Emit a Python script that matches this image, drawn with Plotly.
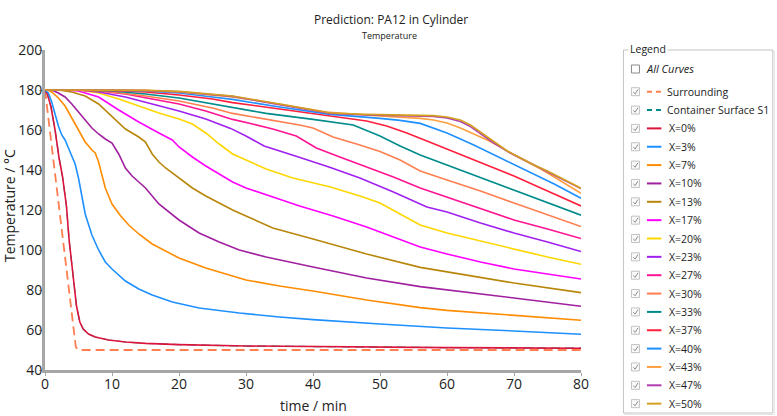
import plotly.graph_objects as go

# ---------------- data ----------------
surr_t = [0, 4.1, 4.6, 5.0, 80]
surr_T = [180, 65, 51.5, 50, 50]

cont_t = [0, 0.4, 0.9, 1.5, 2.1, 2.6, 3.2, 3.6, 4.1, 4.7, 5.2, 5.7, 6.5, 7.5, 9.5, 12, 15, 20, 30, 45, 60, 80]
cont_T = [180, 177.5, 171.5, 160, 146, 137, 122, 105, 90, 72, 64, 60.5, 58, 56.5, 55, 54, 53.3, 52.7, 52, 51.5, 51.2, 50.9]

x0_t = [0, 0.4, 0.9, 1.5, 2.1, 2.6, 3.2, 3.6, 4.1, 4.7, 5.2, 5.7, 6.5, 7.5, 9.5, 12, 15, 20, 30, 45, 60, 80]
x0_T = [180, 177.5, 171.5, 160, 146, 137, 122, 105, 90, 72, 64, 60.5, 58, 56.5, 55, 54, 53.3, 52.7, 52, 51.5, 51.2, 50.9]

x3_t = [0, 0.5, 1, 1.5, 2, 2.5, 3, 3.5, 4, 4.5, 5, 5.5, 6, 7, 8, 9, 10, 12, 14, 16, 19, 23, 29, 35, 40, 50, 56, 60, 70, 80]
x3_T = [180, 178.5, 174, 168, 162, 157.5, 155, 151, 147, 143, 136, 126, 118, 107.5, 100, 94, 90.5, 84.5, 80.5, 77.5, 74, 71, 68.5, 66.5, 65.2, 63, 61.7, 61, 59.5, 57.9]

x7_t = [0, 0.5, 1, 2, 3, 4, 5, 6, 7, 7.5, 8, 8.5, 9, 10, 11.3, 12.5, 14, 16, 18, 20, 22, 24, 27, 30, 35, 40, 48, 56, 60, 70, 80]
x7_T = [180, 179.8, 179, 176, 172, 166, 160, 154, 150, 148.5, 144, 138, 131, 123, 117, 112.5, 108, 103, 99.5, 96, 93.5, 91, 88, 85, 82, 79.5, 75, 71.2, 69.8, 67.2, 64.9]

x10_t = [0, 1, 2, 3, 4, 5, 6, 7, 8, 9, 10, 11, 12, 13, 14, 15, 17, 20, 23, 26, 29, 33, 40, 48, 56, 60, 70, 80]
x10_T = [180, 180, 178.5, 176.5, 173, 169, 165, 161, 158, 155.5, 153.5, 148, 141, 137, 134, 131, 123, 115, 108.5, 104, 100, 96.5, 91.5, 86, 81.7, 80, 76, 71.9]

x13_t = [0, 2, 4, 6, 8, 10, 12, 14, 15, 16, 17, 18, 20, 22, 24, 26, 28, 30, 34, 40, 48, 56, 60, 70, 80]
x13_T = [180, 180, 179, 177, 173, 166.5, 160.5, 156.5, 154, 148, 144, 141, 136, 131, 127, 123.5, 120, 117, 111, 105.5, 98, 91.3, 89, 83.5, 78.7]

x17_t = [0, 3, 5, 8, 11, 14, 17, 19, 20, 22, 24, 26, 28, 30, 33, 38, 43, 48, 52, 56, 60, 65, 70, 75, 80]
x17_T = [180, 180, 179.5, 176.5, 170, 164, 158.5, 155, 151.5, 146.5, 142, 138, 134, 131, 127.5, 122, 117, 111.5, 106.5, 101.5, 98, 94, 90.5, 88, 85.5]

x20_t = [0, 5, 8, 11, 14, 17, 20, 22, 24, 26, 28, 30, 33, 37, 42.6, 47, 50, 53, 56, 60, 65, 70, 75, 80]
x20_T = [180, 180, 178.5, 175.5, 172, 168.5, 165.5, 163, 158.5, 153, 148, 145, 140.5, 136, 131.5, 127, 123.5, 118, 112.5, 108.5, 104.5, 100.5, 96.5, 92.9]

x23_t = [0, 5, 8, 12, 16, 20, 24, 27.7, 30, 32.7, 37.6, 42.6, 47, 52, 57, 60, 65, 70, 75, 80]
x23_T = [180, 180, 179, 176.5, 173, 169.5, 165.5, 160.8, 157, 152, 146.7, 141.3, 136, 129, 121.5, 119, 113.5, 108.5, 104, 99.2]

x27_t = [0, 5, 8, 12, 16, 20, 24, 28, 31, 34, 37.5, 40.5, 44, 48, 52, 56, 60, 65, 70, 75, 80]
x27_T = [180, 180, 179.5, 178, 175.5, 173, 169.5, 165.3, 163, 160.5, 157, 151, 146.5, 141.5, 136.5, 131, 126.5, 120.5, 115, 110.5, 105.7]

x30_t = [0, 5, 10, 15, 20, 25, 28, 33, 38, 40, 43, 47, 50, 53, 56, 60, 65, 70, 75, 80]
x30_T = [180, 180, 179, 177, 174.5, 171, 168.3, 165.5, 162.5, 161, 156.5, 152.5, 149.2, 145, 139.5, 135, 129.5, 123.5, 117.5, 111.7]

x33_t = [0, 5, 10, 15, 20, 25, 28, 33, 40, 46, 50, 53, 56, 60, 65, 70, 75, 80]
x33_T = [180, 180, 179.5, 178, 176, 173, 171.3, 168.3, 165.3, 162.5, 157, 152, 147.5, 142.5, 136, 130, 123.5, 117.4]

x37_t = [0, 5, 10, 15, 20, 25, 28, 35, 42, 48, 51, 54, 57, 60, 65, 70, 75, 80]
x37_T = [180, 180, 179.8, 179, 177.5, 175.5, 173.7, 170.5, 167.2, 164.5, 162, 158.5, 154.5, 150.5, 144, 137, 129.5, 122]

x40_t = [0, 10, 15, 20, 25, 28, 35, 42.6, 50, 53, 56, 60, 64, 68, 72, 76, 80]
x40_T = [180, 180, 179.5, 178.5, 176.5, 175.3, 171.5, 167.8, 165.8, 164.8, 163.3, 158.5, 152.5, 146, 139.5, 133, 125.9]

x43_t = [0, 10, 15, 20, 25, 28, 35, 42, 50, 56, 58, 60, 62, 64, 66, 68, 70, 72, 74, 76, 78, 80]
x43_T = [180, 180, 179.8, 179, 177.5, 176.5, 173, 169, 167, 165.8, 165, 163.5, 161, 158, 155, 151.5, 147.5, 144, 140.5, 136.5, 132.5, 128.4]

x47_t = [0, 10, 15, 20, 25, 28, 35, 42.6, 48, 52, 56, 58, 60, 62, 63.5, 65, 67, 69, 71, 73, 75, 77, 80]
x47_T = [180, 180, 179.7, 179.1, 177.8, 176.8, 172.7, 168.3, 167.5, 167.3, 167.2, 166.8, 166, 164.2, 161.7, 158.2, 153.5, 149.3, 145.8, 142.3, 139.2, 135.7, 130.7]

x50_t = [0, 10, 15, 20, 25, 28, 35, 42.6, 48, 52, 56, 58, 60, 62, 63.5, 65, 67, 69, 71, 73, 75, 77, 80]
x50_T = [180, 180, 179.8, 179.3, 178, 177, 173, 168.5, 167.8, 167.6, 167.5, 167.2, 166.5, 165, 162.5, 159, 154, 149.5, 146, 142.5, 139.5, 136, 130.9]

names = ["Surrounding", "Container Surface S1", "X=0%", "X=3%", "X=7%", "X=10%", "X=13%",
         "X=17%", "X=20%", "X=23%", "X=27%", "X=30%", "X=33%", "X=37%", "X=40%",
         "X=43%", "X=47%", "X=50%"]
times = [surr_t, cont_t, x0_t, x3_t, x7_t, x10_t, x13_t, x17_t, x20_t, x23_t, x27_t,
         x30_t, x33_t, x37_t, x40_t, x43_t, x47_t, x50_t]
temps = [surr_T, cont_T, x0_T, x3_T, x7_T, x10_T, x13_T, x17_T, x20_T, x23_T, x27_T,
         x30_T, x33_T, x37_T, x40_T, x43_T, x47_T, x50_T]
colors = ["#FF7F50", "#008B8B", "#DC143C", "#1E90FF", "#FF8C00", "#A0209F", "#B8860B",
          "#FF00FF", "#FFD700", "#A020F0", "#FF1493", "#FF7F50", "#008B8B", "#FF1F3D",
          "#1E90FF", "#FFA040", "#B03CB0", "#D4A020"]
dashes = ["dash", "dash"] + ["solid"] * 16

x_ticks = [0, 10, 20, 30, 40, 50, 60, 70, 80]
y_ticks = [40, 60, 80, 100, 120, 140, 160, 180, 200]

# ---------------- figure ----------------
W, H = 777, 416
L, R, TOP, BOT = 45, 581.5, 50, 370

def px(xp):
    return (xp - L) / (R - L)

def py(yp):
    return (BOT - yp) / (BOT - TOP)

fig = go.Figure()
for n, t, T, c, d in zip(names, times, temps, colors, dashes):
    if n == "Container Surface S1":
        w = 1.2
    elif d == "dash":
        w = 1.8
    else:
        w = 1.6
    fig.add_trace(go.Scatter(
        x=t, y=T, mode="lines", name=n, showlegend=False,
        line=dict(color=c, width=w, dash="9px,5px" if d == "dash" else "solid")))

shapes = []
annots = []

# legend frame
shapes.append(dict(type="rect", xref="paper", yref="paper",
                   x0=px(625), x1=px(775), y0=py(414.5), y1=py(51.5),
                   line=dict(color="#E6E6E6", width=1), fillcolor="rgba(0,0,0,0)"))
shapes.append(dict(type="rect", xref="paper", yref="paper",
                   x0=px(624), x1=px(773.5), y0=py(413), y1=py(50),
                   line=dict(color="#C4C4C4", width=1), fillcolor="white"))
annots.append(dict(text="Legend", xref="paper", yref="paper", x=px(628.5), y=py(48.5),
                   xanchor="left", yanchor="middle", showarrow=False,
                   font=dict(size=10.5, color="#222"), bgcolor="white", borderpad=1))

# "All Curves" row
cy = 69
shapes.append(dict(type="rect", xref="paper", yref="paper",
                   x0=px(632), x1=px(640), y0=py(cy + 4), y1=py(cy - 4),
                   line=dict(color="#8A8A8A", width=1), fillcolor="white"))
annots.append(dict(text="<i>All Curves</i>", xref="paper", yref="paper", x=px(645), y=py(cy),
                   xanchor="left", yanchor="middle", showarrow=False,
                   font=dict(size=11, color="#222")))

row0, step = 91.7, 18.35
for i, (n, c, d) in enumerate(zip(names, colors, dashes)):
    cy = row0 + i * step
    shapes.append(dict(type="rect", xref="paper", yref="paper",
                       x0=px(632), x1=px(640), y0=py(cy + 4), y1=py(cy - 4),
                       line=dict(color="#C2C2C2", width=1), fillcolor="#FAFAFA"))
    path = "M {:.5f},{:.5f} L {:.5f},{:.5f} L {:.5f},{:.5f}".format(
        px(633.8), py(cy + 0.3), px(635.7), py(cy + 2.2), px(638.5), py(cy - 2.3))
    shapes.append(dict(type="path", xref="paper", yref="paper", path=path,
                       line=dict(color="#8C8C8C", width=1)))
    shapes.append(dict(type="line", xref="paper", yref="paper",
                       x0=px(647.5), x1=px(662), y0=py(cy), y1=py(cy),
                       line=dict(color=c, width=2, dash="5px,4px" if d == "dash" else "solid")))
    annots.append(dict(text=n, xref="paper", yref="paper",
                       x=px(666 if d == "dash" else 668), y=py(cy),
                       xanchor="left", yanchor="middle", showarrow=False,
                       font=dict(size=10.5, color="#222")))

# titles
annots.append(dict(text="Prediction: PA12 in Cylinder", xref="paper", yref="paper",
                   x=px(391), y=py(19.5), xanchor="center", yanchor="middle",
                   showarrow=False, font=dict(size=12, color="#222")))
annots.append(dict(text="Temperature", xref="paper", yref="paper",
                   x=px(390), y=py(35), xanchor="center", yanchor="middle",
                   showarrow=False, font=dict(size=9, color="#222")))
# axis titles
annots.append(dict(text="Temperature / °C", xref="paper", yref="paper",
                   x=px(9), y=py(206), xanchor="center", yanchor="middle", textangle=-90,
                   showarrow=False, font=dict(size=14, color="#222")))
annots.append(dict(text="time / min", xref="paper", yref="paper",
                   x=px(314), y=py(405), xanchor="center", yanchor="middle",
                   showarrow=False, font=dict(size=14, color="#222")))

axis_common = dict(showgrid=False, zeroline=False, showline=True, linecolor="#A6A6A6",
                   linewidth=3, ticks="outside", ticklen=3, tickcolor="#A6A6A6",
                   tickwidth=1, tickfont=dict(size=14, color="#222"), automargin=False)

fig.update_layout(
    width=W, height=H, autosize=False,
    margin=dict(l=L, r=W - R, t=TOP, b=H - BOT, pad=0),
    paper_bgcolor="white", plot_bgcolor="white",
    font=dict(family="Open Sans, sans-serif", color="#222"),
    showlegend=False, shapes=shapes, annotations=annots,
)
fig.update_xaxes(range=[0, 80], tickvals=x_ticks, ticktext=[str(v) for v in x_ticks],
                 ticklabelstandoff=-4, **axis_common)
fig.update_yaxes(range=[40, 200], tickvals=y_ticks, ticktext=[str(v) for v in y_ticks],
                 ticklabelstandoff=-6, **axis_common)

fig.write_html("out.html")
